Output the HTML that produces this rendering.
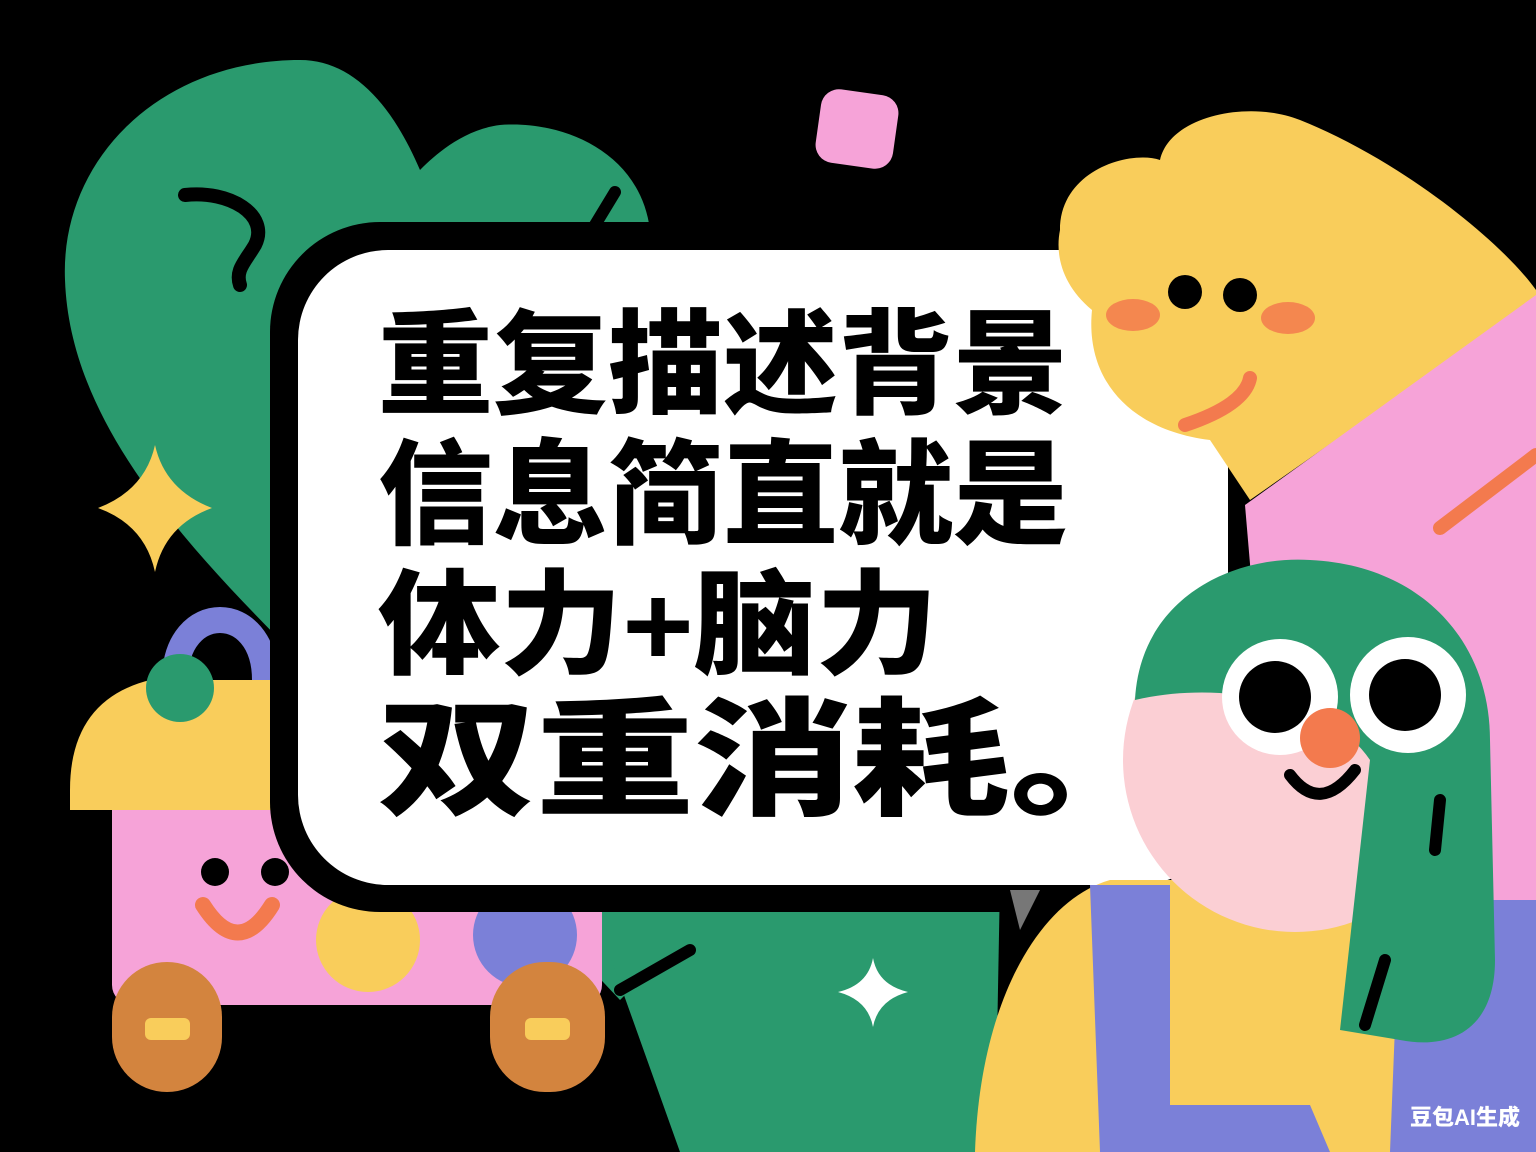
<!DOCTYPE html>
<html><head><meta charset="utf-8">
<style>
html,body{margin:0;padding:0;background:#000;}
svg{display:block}
text{font-family:"Liberation Sans","Noto Sans CJK SC","WenQuanYi Zen Hei",sans-serif;font-weight:900;}
</style></head>
<body>
<svg width="1536" height="1152" viewBox="0 0 1536 1152" xmlns="http://www.w3.org/2000/svg">
<rect width="1536" height="1152" fill="#000"/>
<path d="M300 60 C160 60 60 160 65 280 C70 420 180 540 300 660 L620 1000 L640 980 L650 230 C640 150 560 120 500 125 C460 130 430 160 420 170 C390 100 350 60 300 60 Z" fill="#2a9a6e"/>
<path d="M590 900 L1000 880 L995 1152 L680 1152 Z" fill="#2a9a6e"/>
<path d="M185 195 C230 190 270 215 255 245 C245 262 235 270 240 285" stroke="#000" stroke-width="14" fill="none" stroke-linecap="round"/>
<line x1="595" y1="225" x2="615" y2="192" stroke="#000" stroke-width="12" stroke-linecap="round"/>
<line x1="620" y1="990" x2="690" y2="950" stroke="#000" stroke-width="12" stroke-linecap="round"/>
<path d="M155 445 Q165 490 212 508 Q165 525 155 572 Q145 525 98 508 Q145 490 155 445 Z" fill="#f9cd5b"/>
<rect x="818" y="92" width="78" height="74" rx="18" fill="#f6a3d8" transform="rotate(8 857 129)"/>
<path d="M873 958 Q878 985 908 992 Q878 1000 873 1027 Q868 1000 838 992 Q868 985 873 958 Z" fill="#fff"/>
<g>
<path d="M175 680 C175 600 265 600 265 680" stroke="#7b80d8" stroke-width="26" fill="none"/>
<rect x="112" y="790" width="490" height="215" rx="20" fill="#f6a3d8"/>
<path d="M70 790 Q70 700 150 680 L330 680 L330 810 L70 810 Z" fill="#f9cd5b"/>
<circle cx="180" cy="688" r="34" fill="#2a9a6e"/>
<circle cx="368" cy="940" r="52" fill="#f9cd5b"/>
<circle cx="525" cy="935" r="52" fill="#7b80d8"/>
<circle cx="215" cy="872" r="14" fill="#000"/><circle cx="275" cy="872" r="14" fill="#000"/>
<path d="M203 905 Q238 960 272 905" stroke="#f37a4e" stroke-width="16" fill="none" stroke-linecap="round"/>
<rect x="112" y="962" width="110" height="130" rx="55" fill="#d3843e"/>
<rect x="490" y="962" width="115" height="130" rx="55" fill="#d3843e"/>
<rect x="145" y="1018" width="45" height="22" rx="6" fill="#f9cd5b"/>
<rect x="525" y="1018" width="45" height="22" rx="6" fill="#f9cd5b"/>
</g>
<rect x="270" y="222" width="975" height="690" rx="110" fill="#000"/>
<rect x="298" y="250" width="930" height="635" rx="90" fill="#fff"/>
<path d="M1010 890 L1040 890 L1020 930 Z" fill="#777"/>
<g fill="#000">
<text x="378" y="405" font-size="114" textLength="690" lengthAdjust="spacingAndGlyphs">重复描述背景</text>
<text x="378" y="535" font-size="114" textLength="690" lengthAdjust="spacingAndGlyphs">信息简直就是</text>
<text x="378" y="665" font-size="114" textLength="560" lengthAdjust="spacingAndGlyphs">体力+脑力</text>
<text x="378" y="805" font-size="128" textLength="790" lengthAdjust="spacingAndGlyphs">双重消耗。</text>
</g>
<g>
<path d="M1060 230 C1060 170 1130 150 1160 160 C1170 115 1250 100 1300 120 C1400 160 1500 240 1536 290 L1536 300 L1250 500 L1210 440 C1130 430 1085 380 1092 310 C1062 285 1055 255 1060 230 Z" fill="#f9cd5b"/>
<ellipse cx="1133" cy="315" rx="27" ry="16" fill="#f37a4e" opacity="0.85"/>
<ellipse cx="1288" cy="318" rx="27" ry="16" fill="#f37a4e" opacity="0.85"/>
<circle cx="1185" cy="292" r="17" fill="#000"/><circle cx="1240" cy="295" r="17" fill="#000"/>
<path d="M1185 425 Q1245 405 1250 378" stroke="#f37a4e" stroke-width="14" fill="none" stroke-linecap="round"/>
</g>
<path d="M1245 505 L1536 295 L1536 1152 L1300 1152 Z" fill="#f6a3d8"/>
<line x1="1440" y1="528" x2="1536" y2="455" stroke="#f37a4e" stroke-width="14" stroke-linecap="round"/>
<g>
<path d="M975 1152 C980 1000 1040 900 1110 880 L1420 880 L1536 1000 L1536 1152 Z" fill="#f9cd5b"/>
<path d="M1090 885 L1170 885 L1170 1105 L1310 1105 L1330 1152 L1100 1152 Z" fill="#7b80d8"/>
<path d="M1400 900 L1536 900 L1536 1152 L1390 1152 Z" fill="#7b80d8"/>
<circle cx="1295" cy="760" r="172" fill="#fbcfd4"/>
<path d="M1135 700 C1140 600 1230 555 1310 560 C1420 565 1490 640 1490 740 L1495 960 C1495 1030 1450 1050 1400 1040 L1340 1030 L1370 760 C1330 700 1220 680 1135 700 Z" fill="#2a9a6e"/>
<circle cx="1280" cy="697" r="58" fill="#fff"/><circle cx="1408" cy="695" r="58" fill="#fff"/>
<circle cx="1275" cy="697" r="36" fill="#000"/><circle cx="1405" cy="695" r="36" fill="#000"/>
<circle cx="1330" cy="738" r="30" fill="#f37a4e"/>
<path d="M1290 775 Q1320 815 1355 770" stroke="#000" stroke-width="12" fill="none" stroke-linecap="round"/>
<line x1="1440" y1="800" x2="1435" y2="850" stroke="#000" stroke-width="12" stroke-linecap="round"/>
<line x1="1385" y1="960" x2="1365" y2="1025" stroke="#000" stroke-width="12" stroke-linecap="round"/>
</g>
<text x="1410" y="1125" font-size="22" fill="#fff">豆包AI生成</text>
</svg>
</body></html>
